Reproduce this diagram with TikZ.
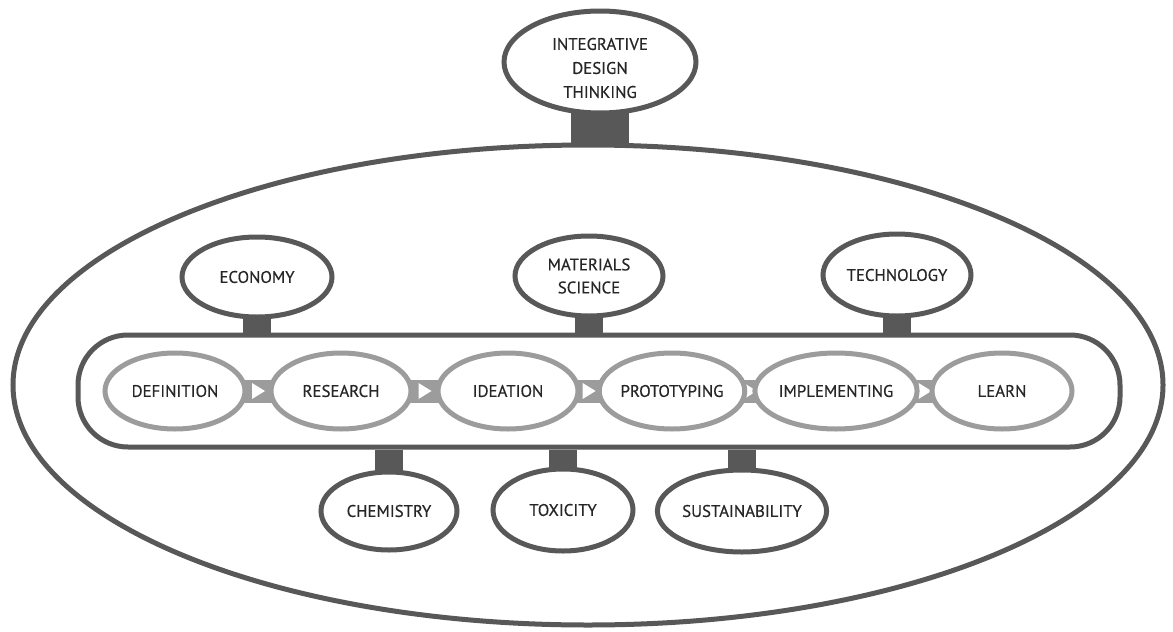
\documentclass[tikz,border=0pt]{standalone}
\usepackage{fontspec}
\setmainfont{PT Sans}[FakeBold=0.4]
\usetikzlibrary{shapes.geometric,backgrounds,calc}
\definecolor{dk}{HTML}{585858}
\definecolor{lt}{HTML}{9C9C9C}
\definecolor{txt}{HTML}{262626}
\begin{document}
\begin{tikzpicture}[x=1pt,y=-1pt,
  lbl/.style={text=txt, font=\fontsize{16.8}{23}\selectfont, align=center},
  oval/.style={ellipse, draw=dk, line width=5pt, fill=white, inner sep=0pt, lbl},
  proc/.style={ellipse, draw=lt, line width=5pt, fill=white, inner sep=0pt,
    minimum width=140pt, minimum height=76pt, lbl},
  band/.style={draw=dk, line width=5pt, rounded corners=50pt, inner sep=0pt,
    minimum width=1042pt, minimum height=112pt},
  stub/.style={dk, line width=28pt},
  link/.style={lt, line width=23pt},
  tipw/.style={fill=white}
]
\useasboundingbox (0,0) rectangle (1173,632);

% ovals
\node[oval, minimum width=192pt, minimum height=102pt] (title) at (600,62) {};
\node[lbl, font=\fontsize{16.8}{24}\selectfont] (titletext) at (600,68)
  {INTEGRATIVE\\DESIGN\\THINKING};
\node[band] (bar) at (599,391) {};
\node[oval, minimum width=150pt, minimum height=80pt] (eco) at (257,277) {ECONOMY};
\node[oval, minimum width=148pt, minimum height=80pt] (mat) at (589,276) {MATERIALS\\SCIENCE};
\node[oval, minimum width=148pt, minimum height=82pt] (tech) at (897,275) {TECHNOLOGY};
\node[oval, minimum width=136pt, minimum height=78pt] (chem) at (389,511) {CHEMISTRY};
\node[oval, minimum width=140pt, minimum height=82pt] (tox) at (563,510) {TOXICITY};
\node[oval, minimum width=138pt, minimum height=82pt] (sus) at (742,511) {SUSTAINABILITY};

% process
\node[proc] (p1) at (175,391) {DEFINITION};
\node[proc] (p2) at (341,391) {RESEARCH};
\node[proc] (p3) at (508,391) {IDEATION};
\node[proc] (p4) at (672,391) {PROTOTYPING};
\node[proc] (p5) at (836,391) {IMPLEMENTING};
\node[proc] (p6) at (1002,391) {LEARN};

\begin{pgfonlayer}{background}
  \node[ellipse, draw=dk, line width=5pt, inner sep=0pt,
    minimum width=1150pt, minimum height=480pt] (big) at (588,385) {};
  \draw[dk, line width=58pt] (title.center) -- (title.center |- big.north);
  \foreach \n in {eco,mat,tech}
    \draw[stub] (\n.center) -- (\n.center |- bar.north);
  \foreach \n in {chem,tox,sus}
    \draw[stub] (\n.center) -- (\n.center |- bar.south);
  \foreach \a/\b in {p1/p2,p2/p3,p3/p4,p4/p5,p5/p6}{
    \draw[link] ([xshift=-6pt]\a.east) -- ([xshift=6pt]\b.west);
    \coordinate (m) at ($(\a.east)!0.5!(\b.west)$);
    \fill[tipw] (m) ++(-6,-8) -- ++(13,8) -- ++(-13,8) -- cycle;
  }
\end{pgfonlayer}
\end{tikzpicture}
\end{document}
